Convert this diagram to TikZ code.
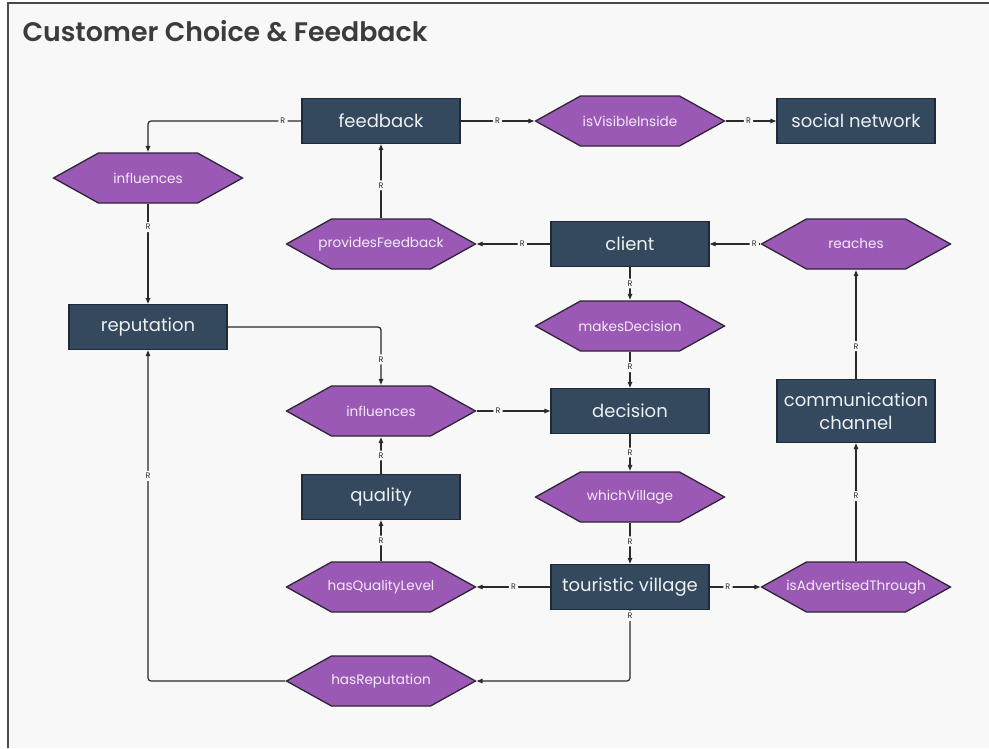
\documentclass[tikz,border=0pt]{standalone}
\usepackage{fontspec}
\setmainfont{Poppins}[BoldFont={* SemiBold}]
\usetikzlibrary{arrows.meta}
\definecolor{canvas}{HTML}{F8F8F8}
\definecolor{framecol}{HTML}{4A4A4A}
\definecolor{titlecol}{HTML}{3C3C3C}
\definecolor{boxfill}{HTML}{34495E}
\definecolor{boxline}{HTML}{1E2B37}
\definecolor{boxtext}{HTML}{ECF0F1}
\definecolor{hexfill}{HTML}{9B59B6}
\definecolor{hexline}{HTML}{2E2435}
\definecolor{hextext}{HTML}{F4EAF8}
\definecolor{wire}{HTML}{2A2A2A}
\begin{document}
\begin{tikzpicture}[x=1pt,y=-1pt,
  entity/.style={rectangle, draw=boxline, fill=boxfill, line width=1.4,
    minimum width=158, minimum height=45, inner sep=0, text=boxtext,
    font=\fontsize{18}{23}\selectfont, align=center},
  relation/.style={rectangle, minimum width=191, minimum height=52, inner sep=0,
    text=hextext, font=\fontsize{13.6}{16}\selectfont,
    path picture={\draw[draw=hexline, fill=hexfill, line width=1.3]
      ([xshift=1]path picture bounding box.west)
      -- ([xshift=46,yshift=-1]path picture bounding box.north west)
      -- ([xshift=-46,yshift=-1]path picture bounding box.north east)
      -- ([xshift=-1]path picture bounding box.east)
      -- ([xshift=-46,yshift=1]path picture bounding box.south east)
      -- ([xshift=46,yshift=1]path picture bounding box.south west)
      -- cycle;}},
  link/.style={draw=wire, line width=1.2, rounded corners=3,
    -{Triangle[length=6pt,width=4.5pt]}},
  rlabel/.style={fill=canvas, inner sep=2.2pt, text=wire,
    font=\fontsize{8}{9}\selectfont}
]
% page and frame
\useasboundingbox (0,0) rectangle (989,748);
\fill[white] (0,0) rectangle (989,748);
\fill[canvas] (8,3) rectangle (989,748);
\draw[framecol, line width=2] (8,748) -- (8,3) -- (989,3);

\node[anchor=west, text=titlecol, font=\fontsize{26.8}{32}\selectfont\bfseries] (title) at (19,31) {Customer Choice \& Feedback};

% entities
\node[entity] (feedback) at (381,121) {feedback};
\node[entity] (social) at (856,121) {social network};
\node[entity] (client) at (630,244) {client};
\node[entity] (reputation) at (148,327) {reputation};
\node[entity] (decision) at (630,411) {decision};
\node[entity, minimum height=63] (comm) at (856,411) {communication\\channel};
\node[entity] (quality) at (381,497) {quality};
\node[entity] (village) at (630,587) {touristic village};

% relations
\node[relation] (visible) at (630,121) {isVisibleInside};
\node[relation] (influencesA) at (148,178) {influences};
\node[relation] (provides) at (381,244) {providesFeedback};
\node[relation] (reaches) at (856,244) {reaches};
\node[relation] (makes) at (630,326) {makesDecision};
\node[relation] (influencesB) at (381,411) {influences};
\node[relation] (which) at (630,497) {whichVillage};
\node[relation] (qualitylevel) at (381,587) {hasQualityLevel};
\node[relation] (advertised) at (856,587) {isAdvertisedThrough};
\node[relation] (hasrep) at (381,681) {hasReputation};

% connectors
\draw[link] (feedback.west) -| node[rlabel, pos=0.06] {R} (influencesA.north);
\draw[link] (feedback.east) -- node[rlabel, pos=0.5] {R} (visible.west);
\draw[link] (visible.east) -- node[rlabel, pos=0.45] {R} (social.west);
\draw[link] (influencesA.south) -- node[rlabel, pos=0.23] {R} (reputation.north);
\draw[link] (provides.north) -- node[rlabel, pos=0.44] {R} (feedback.south);
\draw[link] (client.west) -- node[rlabel, pos=0.38] {R} (provides.east);
\draw[link] (reaches.west) -- node[rlabel, pos=0.12] {R} (client.east);
\draw[link] (client.south) -- node[rlabel, pos=0.5] {R} (makes.north);
\draw[link] (makes.south) -- node[rlabel, pos=0.42] {R} (decision.north);
\draw[link] (reputation.east) -| node[rlabel, pos=0.78] {R} (influencesB.north);
\draw[link] (influencesB.east) -- node[rlabel, pos=0.29] {R} (decision.west);
\draw[link] (quality.north) -- node[rlabel, pos=0.5] {R} (influencesB.south);
\draw[link] (decision.south) -- node[rlabel, pos=0.5] {R} (which.north);
\draw[link] (which.south) -- node[rlabel, pos=0.45] {R} (village.north);
\draw[link] (qualitylevel.north) -- node[rlabel, pos=0.5] {R} (quality.south);
\draw[link] (village.west) -- node[rlabel, pos=0.5] {R} (qualitylevel.east);
\draw[link] (village.east) -- node[rlabel, pos=0.36] {R} (advertised.west);
\draw[link] (advertised.north) -- node[rlabel, pos=0.55] {R} (comm.south);
\draw[link] (comm.north) -- node[rlabel, pos=0.3] {R} (reaches.south);
\draw[link] (village.south) |- node[rlabel, pos=0.04] {R} (hasrep.east);
\draw[link] (hasrep.west) -| node[rlabel, pos=0.81] {R} (reputation.south);
\end{tikzpicture}
\end{document}
